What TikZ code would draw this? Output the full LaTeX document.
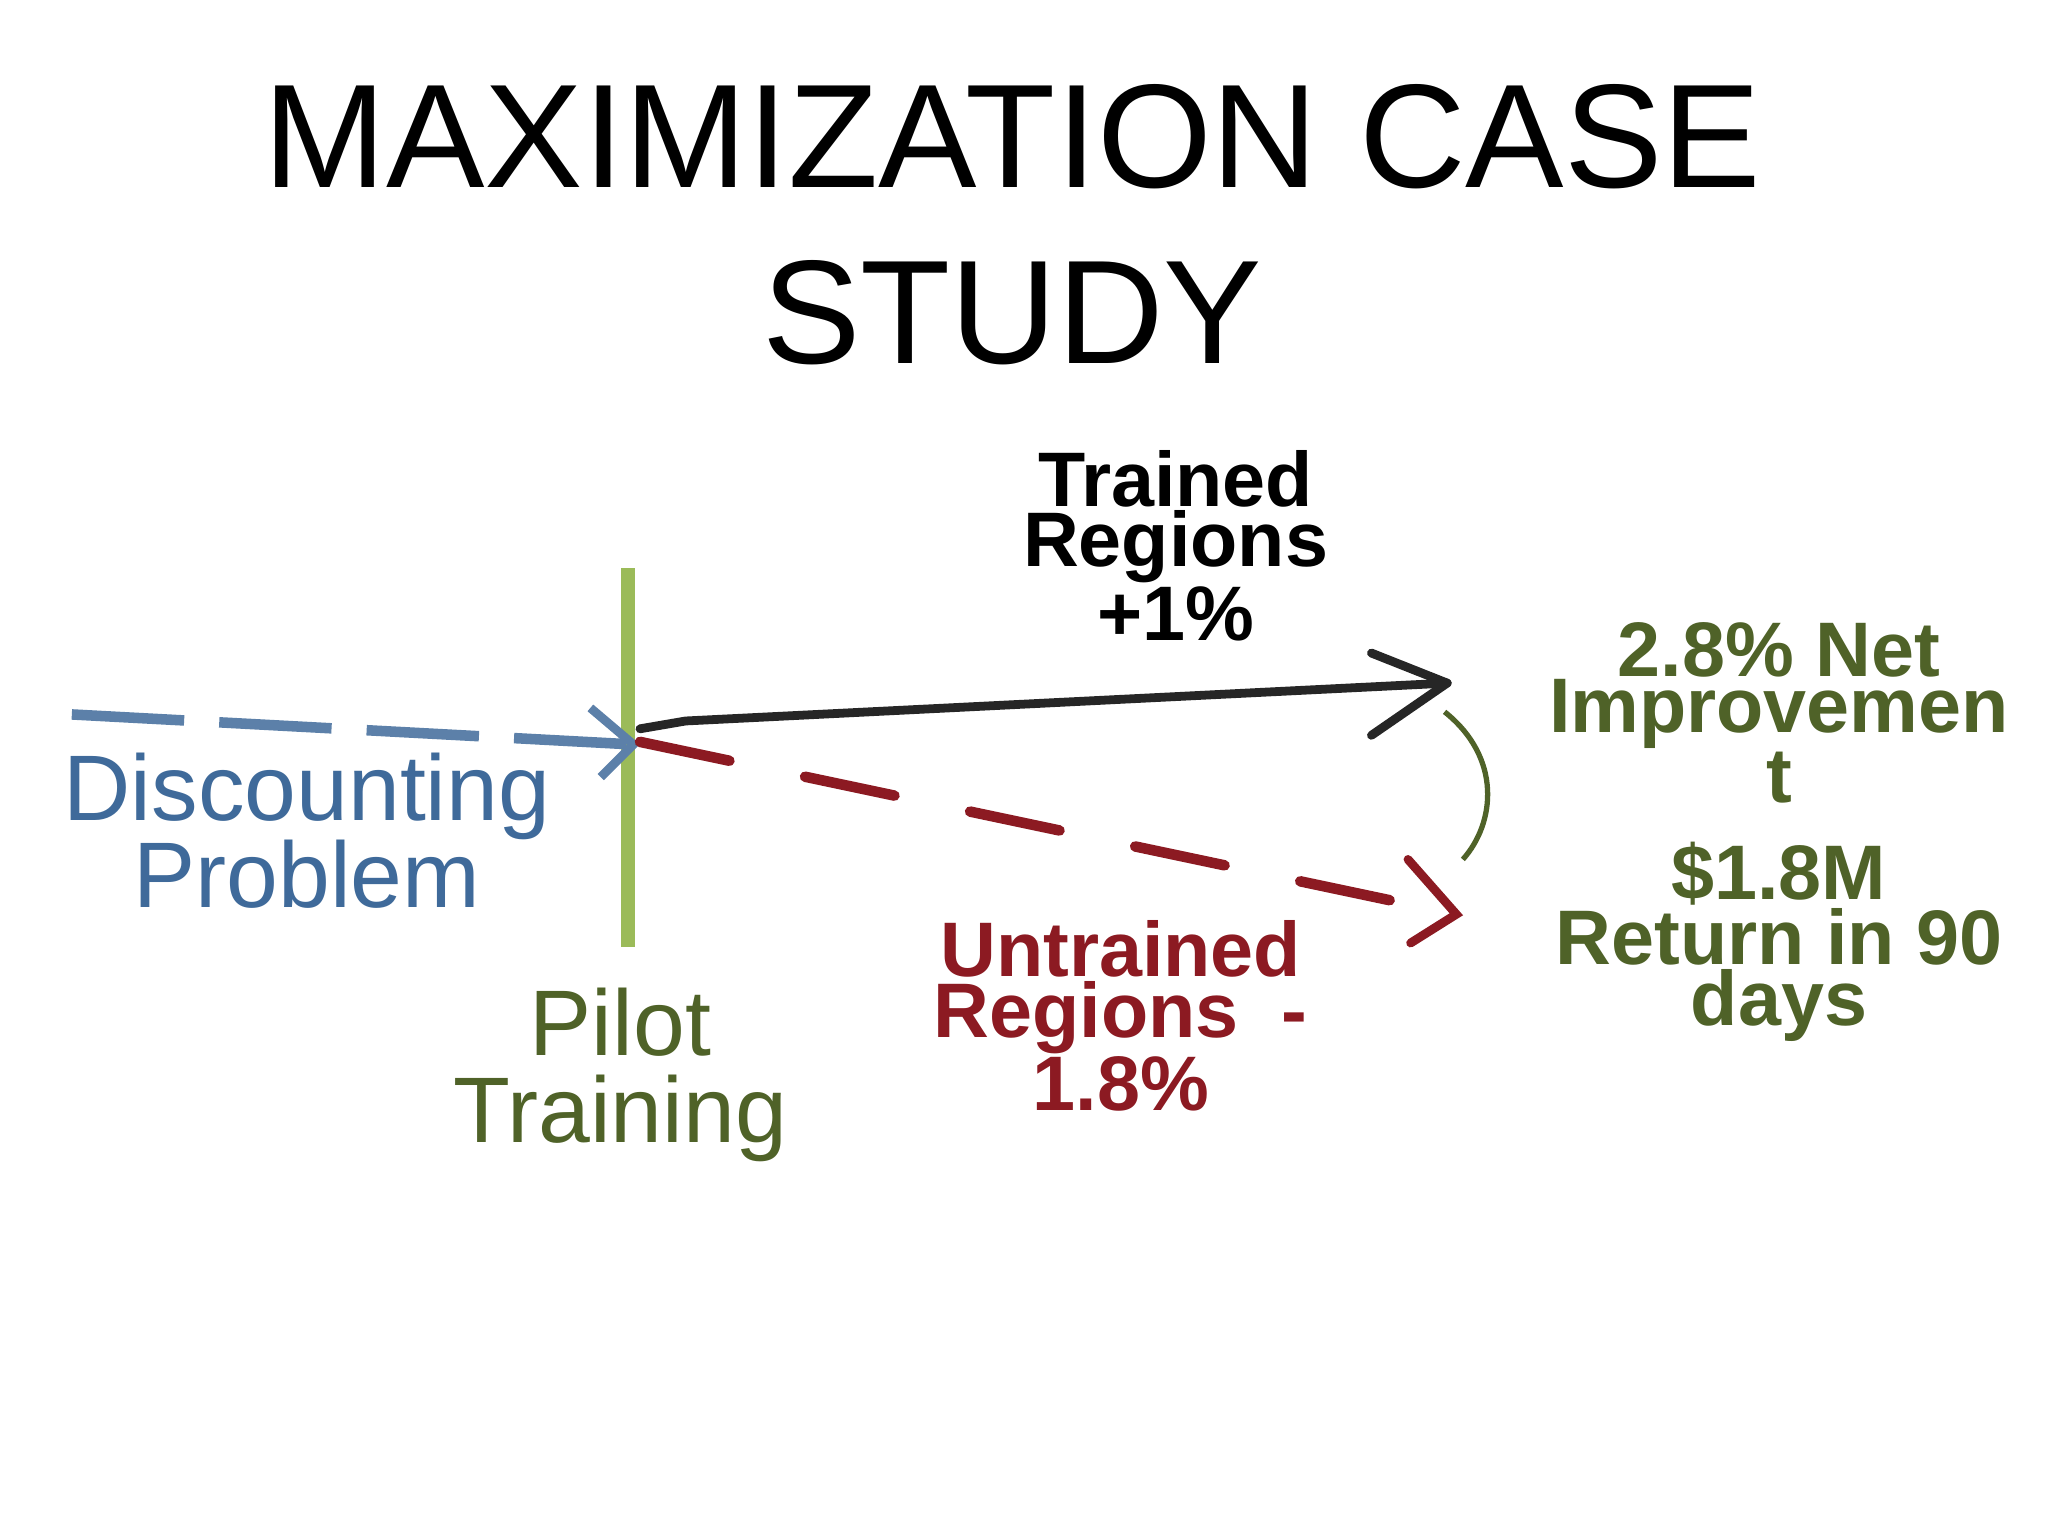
\documentclass[tikz,border=0pt]{standalone}
\usepackage{fontspec}
\setmainfont{Liberation Sans}
\definecolor{tblue}{HTML}{3F6A9A}
\definecolor{tgreen}{HTML}{4F6228}
\definecolor{lgreen}{HTML}{9BBB59}
\definecolor{tred}{HTML}{8C1A22}
\begin{document}
\begin{tikzpicture}[x=0.01306cm,y=-0.01306cm,
  lbl/.style={align=center,font=\fontsize{22}{16}\selectfont\bfseries,inner sep=0pt},
  big/.style={align=center,font=\fontsize{26.5}{25}\selectfont,inner sep=0pt}]
\useasboundingbox[fill=white] (0,0) rectangle (1568,1176);
\node[align=center,font=\fontsize{42}{50}\selectfont] (title) at (775,172) {MAXIMIZATION CASE\\STUDY};
\node[big,text=tblue] (disc) at (235,636) {Discounting\\Problem};
\node[big,text=tgreen] (pilot) at (475,823) {Pilot\\Training};
\node[lbl] (trained) at (900,418) {Trained\\Regions\\+1\%};
\node[lbl,text=tred] (untrained) at (858,778) {Untrained\\Regions\ \ -\\1.8\%};
\node[lbl,text=tgreen] (net) at (1362,546) {2.8\% Net\\Improvemen\\t};
\node[lbl,text=tgreen] (ret) at (1362,721) {\$1.8M\\Return in 90\\days};
\coordinate (bt) at (481,435); \coordinate (bb) at (481,725);
\draw[lgreen,line width=4pt] (bt) -- (bb);
\coordinate (ds) at (55,547); \coordinate (de) at (485,570);
\draw[tblue!85,line width=3pt,dash pattern=on 32pt off 10pt] (ds) -- (de);
\coordinate (dh1) at (452,542); \coordinate (dh2) at (460,595);
\draw[tblue!85,line width=2.5pt] (dh1) -- (de) -- (dh2);
\coordinate (ks) at (490,558); \coordinate (km) at (525,552); \coordinate (ke) at (1108,523);
\coordinate (kh1) at (1050,500); \coordinate (kh2) at (1050,563);
\draw[black!85,line width=2.5pt,line cap=round,line join=round] (ks) -- (km) -- (ke);
\draw[black!85,line width=2.5pt,line cap=round,line join=round] (kh1) -- (ke) -- (kh2);
\coordinate (rs) at (490,568); \coordinate (re) at (1115,700);
\coordinate (rh1) at (1078,658); \coordinate (rh2) at (1080,722);
\draw[tred,line width=3pt,line cap=round,dash pattern=on 26pt off 22pt] (rs) -- (re);
\draw[tred,line width=2.5pt,line cap=round] (rh1) -- (re) -- (rh2);
\coordinate (as) at (1106,545); \coordinate (ae) at (1120,658);
\draw[tgreen,line width=1.5pt] (as) .. controls (1150,580) and (1145,630) .. (ae);
\end{tikzpicture}
\end{document}
